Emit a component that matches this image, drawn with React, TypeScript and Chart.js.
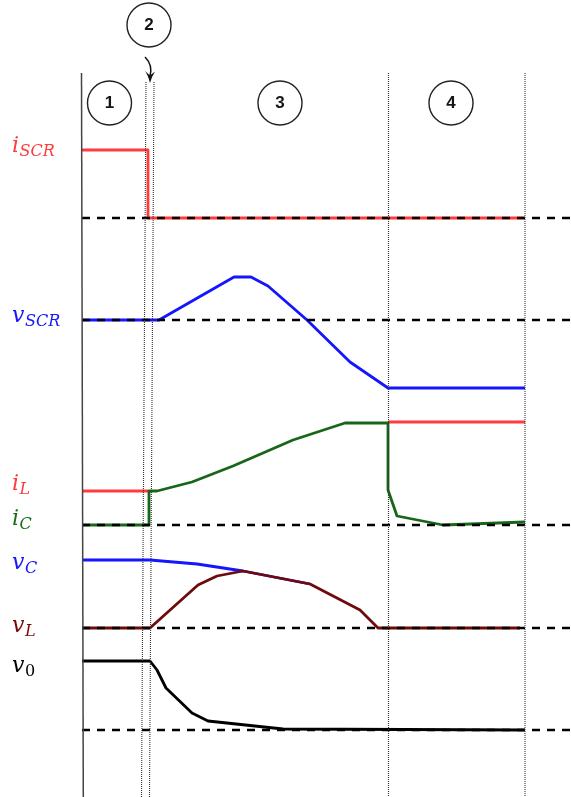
import React, { useEffect, useRef } from "react";
import { Chart, registerables } from "chart.js";

Chart.register(...registerables);

const W = 571;
const H = 797;

// ---- zero (dashed) baselines of each trace group (diagram units from top) ----
const BASE_ISCR = 218;
const BASE_VSCR = 320;
const BASE_IC = 525;
const BASE_VL = 628;
const BASE_V0 = 730;
const DASH_START = 82;
const DASH_END = 571;

// ---- traces: time (t) and level above its baseline (v) ----
const iSCR_t = [82, 148, 148, 525];
const iSCR_v = [68, 68, 0, 0];

const vSCR_t = [82, 159, 234, 251, 268, 307, 350, 388, 525];
const vSCR_v = [0, 0, 43, 43, 34, 0, -42, -68, -68];

const iL_t = [82, 148, 268, 388, 525];
const iL_v: (number | null)[] = [34, 34, null, 103, 103];

const iC_t = [82, 149, 149, 157, 192, 233, 293, 345, 388, 388, 397, 443, 525];
const iC_v = [0, 0, 34, 34, 43, 59, 85, 102, 102, 35, 9, 0, 3];

const vC_t = [82, 150, 197, 243, 310];
const vC_v = [68, 68, 64, 57, 44];

const vL_t = [82, 150, 198, 217, 243, 310, 360, 378, 520];
const vL_v = [0, 0, 43, 52, 57, 44, 18, 0, 0];

const v0_t = [82, 150, 157, 166, 192, 208, 283, 525];
const v0_v = [69, 69, 60, 42, 17, 9, 1, 0];

// ---- interval boundary lines: [t at top, top, t at bottom] ----
const AXIS_LINE = [81.5, 73, 83.3];
const PHASE_LINES = [
  [146, 82, 141.5],
  [154, 82, 149.5],
  [388.5, 73, 388.5],
  [525, 73, 525],
];

// ---- interval markers ----
const MARK_TEXT = ["1", "2", "3", "4"];
const MARK_T = [109.5, 149, 280, 451];
const MARK_Y = [103, 25, 103, 103];

// ---- signal labels ----
const LABEL_MAIN = ["i", "v", "i", "i", "v", "v", "v"];
const LABEL_SUB = ["SCR", "SCR", "L", "C", "C", "L", "0"];
const LABEL_Y = [152, 322, 490, 525, 569, 632, 672];
const LABEL_COLOR = ["#ff3b3b", "#1515ff", "#ff3b3b", "#1a6e1a", "#1515ff", "#7a0a0a", "#000000"];

const RED = "#ff3b3b";
const BLUE = "#1515ff";
const GREEN = "#17661a";
const MAROON = "#6e0a0a";
const BLACK = "#000000";

const pts = (t: number[], v: (number | null)[], base: number) =>
  t.map((x, i) => ({ x, y: v[i] === null ? null : base - (v[i] as number) }));

const overlay = {
  id: "overlay",
  afterDraw(chart: any) {
    const ctx = chart.ctx;
    const xs = chart.scales.x;
    const ys = chart.scales.y;
    const px = (v: number) => xs.getPixelForValue(v);
    const py = (v: number) => ys.getPixelForValue(v);
    ctx.save();
    // circles with numbers
    for (let i = 0; i < MARK_TEXT.length; i++) {
      const cx = px(MARK_T[i]);
      const cy = py(MARK_Y[i]);
      ctx.beginPath();
      ctx.arc(cx, cy, 22, 0, Math.PI * 2);
      ctx.strokeStyle = "#222";
      ctx.lineWidth = 1.4;
      ctx.stroke();
      ctx.fillStyle = "#151515";
      ctx.font = "bold 17px 'Liberation Sans', Arial, sans-serif";
      ctx.textAlign = "center";
      ctx.textBaseline = "middle";
      ctx.fillText(MARK_TEXT[i], cx, cy + 0.5);
    }
    // arrow from marker 2
    ctx.beginPath();
    ctx.moveTo(px(145), py(57));
    ctx.quadraticCurveTo(px(153), py(65), px(150), py(76));
    ctx.strokeStyle = "#111";
    ctx.lineWidth = 1.5;
    ctx.stroke();
    ctx.beginPath();
    ctx.moveTo(px(150), py(83));
    ctx.quadraticCurveTo(px(148), py(75), px(145), py(71));
    ctx.lineTo(px(150), py(75.5));
    ctx.lineTo(px(155), py(71.5));
    ctx.quadraticCurveTo(px(152), py(76), px(150), py(83));
    ctx.closePath();
    ctx.fillStyle = "#111";
    ctx.fill();
    // labels
    ctx.textAlign = "left";
    ctx.textBaseline = "alphabetic";
    for (let i = 0; i < LABEL_MAIN.length; i++) {
      ctx.fillStyle = LABEL_COLOR[i];
      ctx.font = "italic 22px 'DejaVu Serif', serif";
      const x0 = px(12);
      const y0 = py(LABEL_Y[i]);
      ctx.fillText(LABEL_MAIN[i], x0, y0);
      const w = ctx.measureText(LABEL_MAIN[i]).width;
      ctx.font = (LABEL_SUB[i] === "0" ? "" : "italic ") + "16px 'DejaVu Serif', serif";
      ctx.fillText(LABEL_SUB[i], x0 + w + 0.5, y0 + 4);
    }
    ctx.restore();
  },
};

export default function App() {
  const ref = useRef<HTMLCanvasElement | null>(null);
  useEffect(() => {
    if (!ref.current) return;
    const trace = (data: any[], color: string, order: number) => ({
      data,
      borderColor: color,
      borderWidth: 2.8,
      pointRadius: 0,
      tension: 0,
      fill: false,
      spanGaps: false,
      order,
      borderJoinStyle: "round",
    });
    const dashed = (base: number) => ({
      data: [
        { x: DASH_START, y: base },
        { x: DASH_END, y: base },
      ],
      borderColor: BLACK,
      borderWidth: 2.6,
      borderDash: [8, 7],
      pointRadius: 0,
      order: 1,
    });
    const vline = (l: number[], solid: boolean) => ({
      data: [
        { x: l[0], y: l[1] },
        { x: l[2], y: H },
      ],
      borderColor: solid ? "#444" : "#333",
      borderWidth: solid ? 1.5 : 1.1,
      borderDash: solid ? [] : [1, 1],
      pointRadius: 0,
      order: 0,
    });
    const chart = new Chart(ref.current, {
      type: "line",
      data: {
        datasets: [
          vline(AXIS_LINE, true),
          ...PHASE_LINES.map((l) => vline(l, false)),
          dashed(BASE_ISCR),
          dashed(BASE_VSCR),
          dashed(BASE_IC),
          dashed(BASE_VL),
          dashed(BASE_V0),
          trace(pts(iSCR_t, iSCR_v, BASE_ISCR), RED, 2),
          trace(pts(vSCR_t, vSCR_v, BASE_VSCR), BLUE, 2),
          trace(pts(iC_t, iC_v, BASE_IC), GREEN, 2),
          trace(pts(iL_t, iL_v, BASE_IC), RED, 3),
          trace(pts(vL_t, vL_v, BASE_VL), MAROON, 2),
          trace(pts(vC_t, vC_v, BASE_VL), BLUE, 3),
          trace(pts(v0_t, v0_v, BASE_V0), BLACK, 2),
        ] as any,
      },
      options: {
        responsive: false,
        maintainAspectRatio: false,
        animation: false,
        layout: { padding: 0 },
        plugins: { legend: { display: false }, tooltip: { enabled: false } },
        scales: {
          x: { type: "linear", min: 0, max: W, display: false },
          y: { type: "linear", min: 0, max: H, reverse: true, display: false },
        },
      },
      plugins: [overlay],
    });
    return () => chart.destroy();
  }, []);
  return (
    <div style={{ position: "absolute", left: 0, top: 0, width: W, height: H, background: "#fff" }}>
      <canvas ref={ref} width={W} height={H} style={{ display: "block" }} />
    </div>
  );
}
